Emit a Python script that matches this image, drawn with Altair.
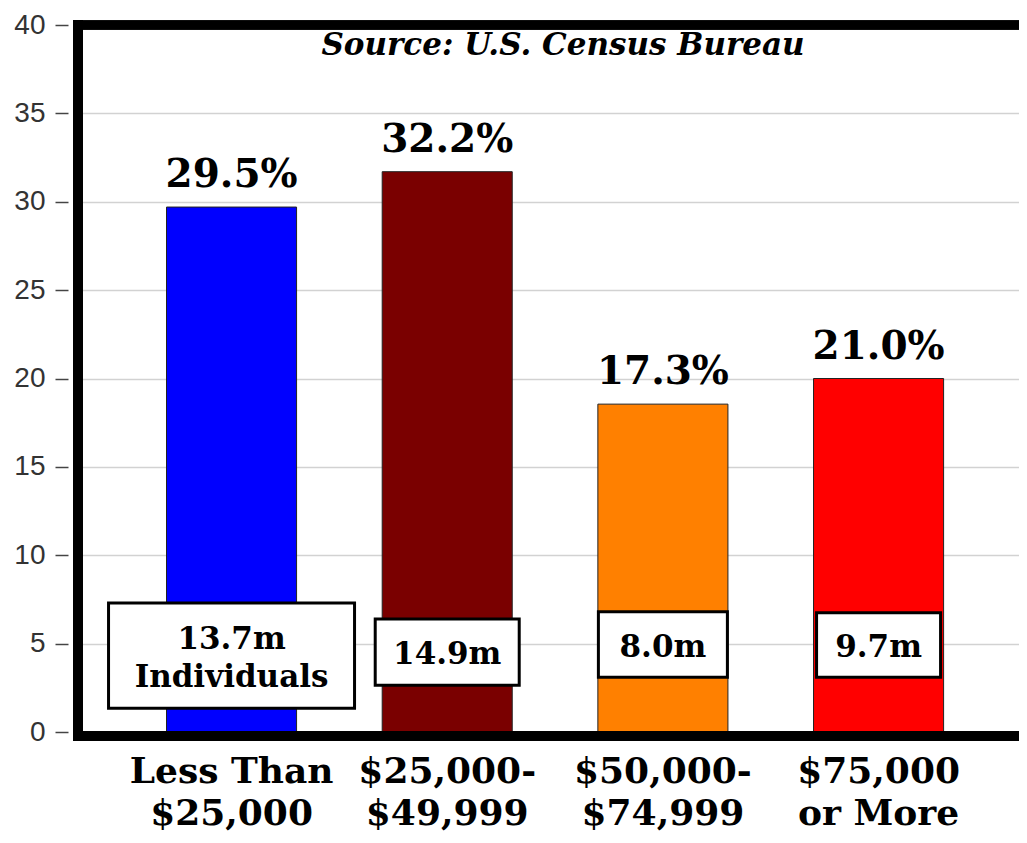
import altair as alt
import pandas as pd

# ---- data ----
categories = ["Less Than\n$25,000", "$25,000-\n$49,999", "$50,000-\n$74,999", "$75,000\nor More"]
bar_values = [29.7, 31.7, 18.55, 20.0]
pct_labels = ["29.5%", "32.2%", "17.3%", "21.0%"]
count_labels = ["13.7m\nIndividuals", "14.9m", "8.0m", "9.7m"]
bar_colors = ["#0000FF", "#7A0000", "#FF8000", "#FF0000"]
y_ticks = [0, 5, 10, 15, 20, 25, 30, 35, 40]

# ---- annotation box layout (data units for height, px for width) ----
box_low = [1.35, 2.65, 3.1, 3.1]
box_high = [7.3, 6.4, 6.8, 6.75]
box_width_px = [246, 144, 129, 124]

W, H = 941, 707
LINE_H = 38
PX_PER_UNIT = H / 40.0

df = pd.DataFrame({
    "cat": categories,
    "value": bar_values,
    "pct": pct_labels,
    "count": count_labels,
    "color": bar_colors,
    "lo": box_low,
    "hi": box_high,
    "bw": box_width_px,
})
n_lines = df["count"].str.count("\n")
df["mid"] = (df["lo"] + df["hi"]) / 2 + n_lines * (LINE_H / 2) / PX_PER_UNIT

x_enc = alt.X(
    "cat:N",
    sort=categories,
    scale=alt.Scale(paddingInner=0.397, paddingOuter=0.38, align=0.54),
    axis=alt.Axis(
        title=None, labelAngle=0, domain=False, ticks=False,
        labelExpr="split(datum.label, '\\n')", labelLimit=0,
        labelFont="DejaVu Serif", labelFontWeight="bold", labelFontSize=36,
        labelColor="#000", labelLineHeight=42, labelPadding=22,
    ),
)
y_scale = alt.Scale(domain=[0, 40], nice=False, zero=True)
y_axis = alt.Axis(
    title=None, values=y_ticks, domain=False,
    grid=True, gridColor="#d2d2d2", gridWidth=1.5,
    tickSize=13, tickColor="#444", tickWidth=1.5, offset=10,
    labelFont="Liberation Sans", labelFontSize=28, labelColor="#333",
    labelPadding=10,
)

base = alt.Chart(df)

bars = base.mark_bar(stroke="#222", strokeWidth=1).encode(
    x=x_enc,
    y=alt.Y("value:Q", scale=y_scale, axis=y_axis),
    color=alt.Color("color:N", scale=None, legend=None),
)

pct_text = base.mark_text(
    font="DejaVu Serif", fontWeight="bold", fontSize=39, baseline="bottom", dy=-12, color="#000"
).encode(x=alt.X("cat:N", sort=categories), y=alt.Y("value:Q"), text="pct:N")

boxes = base.mark_bar(color="white", stroke="#000", strokeWidth=3).encode(
    x=alt.X("cat:N", sort=categories),
    y=alt.Y("lo:Q"),
    y2="hi:Q",
    size=alt.Size("bw:Q", scale=None, legend=None),
)

box_text = base.mark_text(
    font="DejaVu Serif", fontWeight="bold", fontSize=31, baseline="middle",
    lineBreak="\n", lineHeight=LINE_H, dy=3, color="#000"
).encode(x=alt.X("cat:N", sort=categories), y=alt.Y("mid:Q"), text="count:N")

source = alt.Chart(pd.DataFrame({"t": ["Source: U.S. Census Bureau"]})).mark_text(
    font="DejaVu Serif", fontStyle="italic", fontWeight="bold", fontSize=31,
    baseline="middle", align="center", color="#000"
).encode(x=alt.value(485), y=alt.value(21), text="t:N")

frame_left = base.mark_rule(color="#000", strokeWidth=10, strokeCap="square").encode(
    x=alt.value(0), y=alt.value(0), y2=alt.value(H)
)
frame_top = base.mark_rule(color="#000", strokeWidth=9, strokeCap="square").encode(
    x=alt.value(0), x2=alt.value(W + 20), y=alt.value(0)
)
frame_bottom = base.mark_rule(color="#000", strokeWidth=10, strokeCap="square").encode(
    x=alt.value(0), x2=alt.value(W + 20), y=alt.value(H + 4)
)

chart = alt.layer(
    bars, pct_text, boxes, box_text, source, frame_left, frame_top, frame_bottom
).properties(
    width=W, height=H,
    autosize=alt.AutoSizeParams(type="none"),
    padding={"left": 70, "top": 17, "right": 0, "bottom": 101},
).configure_view(stroke=None).configure(background="white")

chart.save("out.html", embed_options={"renderer": "svg", "actions": False})
